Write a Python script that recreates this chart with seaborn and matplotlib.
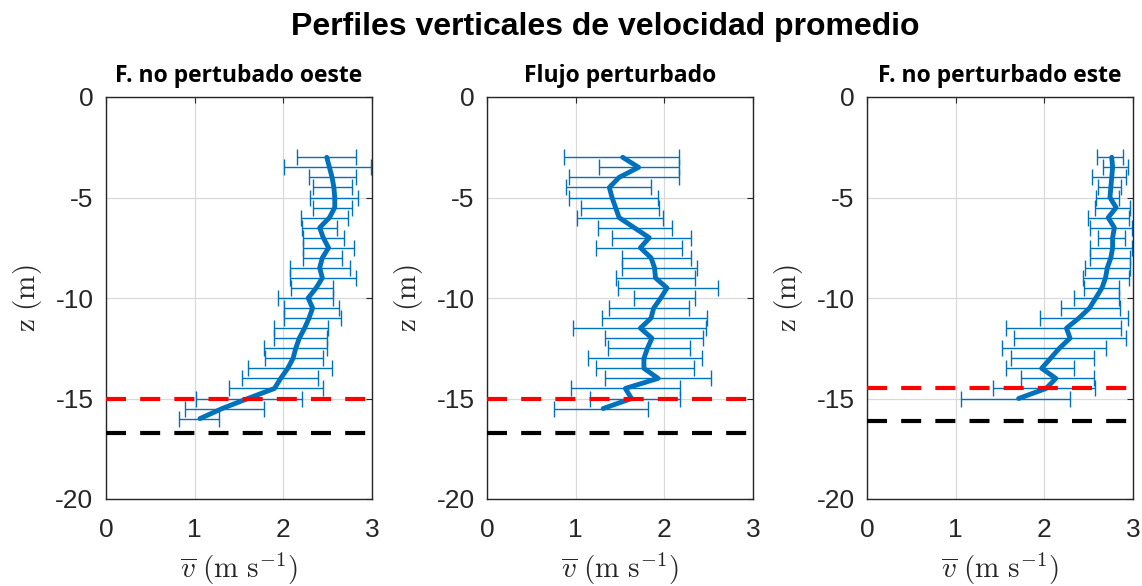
import matplotlib
matplotlib.use("Agg")
import matplotlib.pyplot as plt
import numpy as np
import pandas as pd
import seaborn as sns

# Depth levels (m) of each averaged bin
z_oeste = [-3.0, -3.5, -4.0, -4.5, -5.0, -5.5, -6.0, -6.5, -7.0, -7.5, -8.0, -8.5, -9.0,
           -9.5, -10.0, -10.5, -11.0, -11.5, -12.0, -12.5, -13.0, -13.5, -14.0, -14.5,
           -15.0, -15.5, -16.0]
z_pert = [-3.0, -3.5, -4.0, -4.5, -5.0, -5.5, -6.0, -6.5, -7.0, -7.5, -8.0, -8.5, -9.0,
          -9.5, -10.0, -10.5, -11.0, -11.5, -12.0, -12.5, -13.0, -13.5, -14.0, -14.5,
          -15.0, -15.5]
z_este = [-3.0, -3.5, -4.0, -4.5, -5.0, -5.5, -6.0, -6.5, -7.0, -7.5, -8.0, -8.5, -9.0,
          -9.5, -10.0, -10.5, -11.0, -11.5, -12.0, -12.5, -13.0, -13.5, -14.0, -14.5,
          -15.0]

# Mean velocity (m/s) and the lower / upper ends of its error bar
v_oeste = [2.49, 2.52, 2.55, 2.57, 2.58, 2.58, 2.52, 2.41, 2.45, 2.51, 2.44, 2.41, 2.44,
           2.37, 2.28, 2.33, 2.29, 2.24, 2.18, 2.14, 2.11, 2.05, 1.97, 1.90, 1.60, 1.31, 1.06]
lo_oeste = [2.15, 2.01, 2.29, 2.33, 2.30, 2.33, 2.20, 2.21, 2.22, 2.22, 2.22, 2.08, 2.08,
            2.09, 1.94, 2.01, 2.01, 1.90, 1.90, 1.78, 1.79, 1.60, 1.53, 1.39, 1.02, 0.89, 0.82]
hi_oeste = [2.82, 2.99, 2.82, 2.77, 2.84, 2.78, 2.73, 2.60, 2.68, 2.80, 2.66, 2.75, 2.82,
            2.56, 2.56, 2.63, 2.65, 2.50, 2.49, 2.49, 2.45, 2.55, 2.39, 2.45, 2.21, 1.78, 1.28]

v_pert = [1.53, 1.71, 1.49, 1.38, 1.41, 1.45, 1.49, 1.66, 1.83, 1.73, 1.85, 1.89, 1.90,
          2.03, 1.96, 1.88, 1.85, 1.73, 1.86, 1.81, 1.77, 1.77, 1.93, 1.56, 1.63, 1.31]
lo_pert = [0.87, 1.26, 0.92, 0.89, 0.92, 1.06, 1.02, 1.25, 1.41, 1.23, 1.52, 1.52, 1.45,
           1.48, 1.66, 1.38, 1.30, 0.97, 1.33, 1.37, 1.14, 1.23, 1.33, 0.95, 1.16, 0.75]
hi_pert = [2.16, 2.17, 2.17, 1.85, 1.93, 1.94, 1.99, 2.09, 2.30, 2.20, 2.30, 2.37, 2.35,
           2.60, 2.35, 2.28, 2.48, 2.47, 2.44, 2.29, 2.42, 2.33, 2.53, 2.18, 2.18, 1.82]

v_este = [2.76, 2.77, 2.76, 2.75, 2.74, 2.81, 2.72, 2.79, 2.77, 2.77, 2.75, 2.71, 2.69,
          2.65, 2.58, 2.51, 2.39, 2.25, 2.29, 2.17, 2.07, 1.97, 2.13, 2.02, 1.71]
lo_este = [2.59, 2.66, 2.54, 2.61, 2.58, 2.57, 2.49, 2.51, 2.60, 2.51, 2.52, 2.46, 2.44,
           2.45, 2.33, 2.19, 1.95, 1.57, 1.66, 1.52, 1.62, 1.57, 1.74, 1.42, 1.06]
hi_este = [2.89, 2.94, 2.92, 2.86, 2.84, 2.97, 2.95, 2.99, 2.91, 2.99, 2.97, 2.97, 2.96,
           2.84, 2.84, 2.85, 2.94, 2.87, 2.92, 2.70, 2.56, 2.34, 2.56, 2.57, 2.29]

# Reference depths drawn as dashed lines (red and black)
red_levels = [-15.0, -15.0, -14.5]
black_levels = [-16.7, -16.7, -16.1]

titles = ["F. no pertubado oeste", "Flujo perturbado", "F. no perturbado este"]
x_ticks = [0, 1, 2, 3]
y_ticks = [-20, -15, -10, -5, 0]
main_title = "Perfiles verticales de velocidad promedio"

sns.set_theme(style="white")
plt.rcParams["font.family"] = ["Liberation Sans", "DejaVu Sans"]
plt.rcParams["mathtext.fontset"] = "cm"
plt.rcParams["axes.unicode_minus"] = False

BLUE = "#0072BD"
DARK = "#262626"

W, H = 1142, 586
fig = plt.figure(figsize=(W / 100, H / 100), dpi=100)

lefts = [106, 487, 867]
ax_w, top, bottom = 266, 97, 499

profiles = [
    (z_oeste, v_oeste, lo_oeste, hi_oeste),
    (z_pert, v_pert, lo_pert, hi_pert),
    (z_este, v_este, lo_este, hi_este),
]

for i, (z, v, lo, hi) in enumerate(profiles):
    ax = fig.add_axes([lefts[i] / W, 1 - bottom / H, ax_w / W, (bottom - top) / H])
    df = pd.DataFrame({"z": z, "v": v, "lo": lo, "hi": hi})

    ax.errorbar(df["v"], df["z"], xerr=[df["v"] - df["lo"], df["hi"] - df["v"]],
                fmt="none", ecolor=BLUE, elinewidth=1.0, capsize=5.5, capthick=1.0,
                zorder=2)
    sns.lineplot(data=df, x="v", y="z", orient="y", sort=False, estimator=None,
                 color=BLUE, linewidth=3.5, ax=ax, zorder=3)

    ax.axhline(red_levels[i], color="#FF0000", linewidth=3.0,
               linestyle=(0, (4.8, 3.4)), zorder=4)
    ax.axhline(black_levels[i], color="black", linewidth=3.0,
               linestyle=(0, (4.8, 3.4)), zorder=4)

    ax.set_xlim(0, 3)
    ax.set_ylim(-20, 0)
    ax.set_xticks(x_ticks)
    ax.set_yticks(y_ticks)
    ax.set_xticklabels([str(t) for t in x_ticks])
    ax.set_yticklabels([str(t) for t in y_ticks])
    ax.grid(True, color="#d9d9d9", linewidth=0.9)
    ax.set_axisbelow(True)
    for sp in ax.spines.values():
        sp.set_visible(True)
        sp.set_color(DARK)
        sp.set_linewidth(1.0)
    ax.tick_params(axis="both", direction="in", length=4, width=0.8, color=DARK,
                   top=True, right=True, labelsize=19, labelcolor=DARK)
    ax.tick_params(axis="x", pad=14)
    ax.tick_params(axis="y", pad=9)

    ax.set_xlabel(r"$\overline{v}\ (\mathrm{m\ s^{-1}})$", fontsize=21, color=DARK,
                  labelpad=6)
    ax.set_ylabel(r"$\mathrm{z\ (m)}$", fontsize=21, color=DARK, labelpad=8)
    ax.set_title(titles[i], fontsize=16.5, fontweight="bold", color="black",
                 family=["Open Sans", "DejaVu Sans"], pad=11)

fig.text(605 / W, 1 - 35 / H, main_title, ha="center", va="baseline",
         fontsize=23, fontweight="bold", color="black")

fig.savefig("out.png", dpi=100)
